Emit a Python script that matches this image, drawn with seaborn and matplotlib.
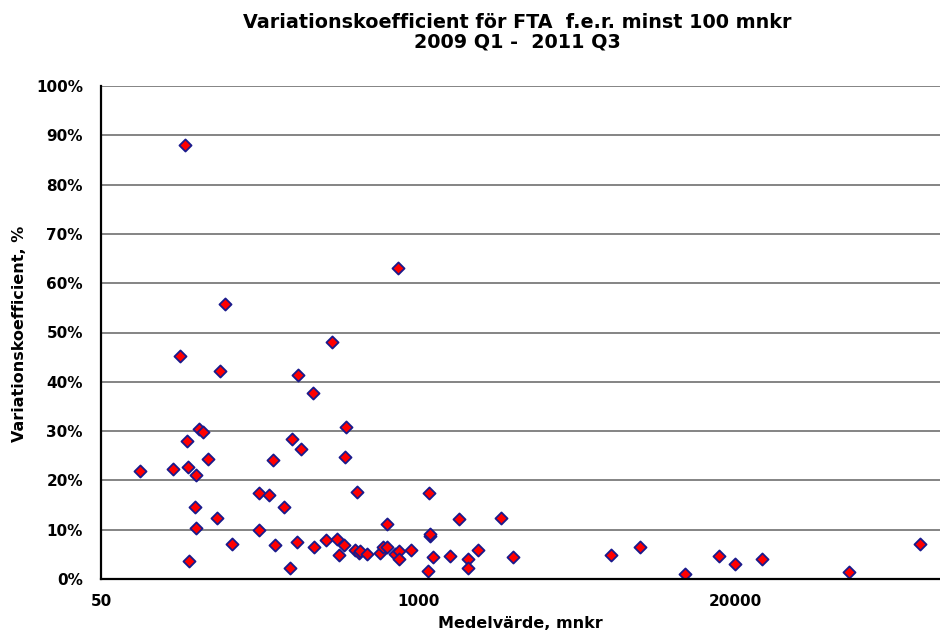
import matplotlib
matplotlib.use("Agg")
from matplotlib import pyplot as plt
from matplotlib.ticker import FixedLocator, NullLocator, FuncFormatter
import pandas as pd
import seaborn as sns

# medelvärde (mnkr) och variationskoefficient (%) per FTA
medelvarde = [72, 99, 105.5, 110.6, 113, 113.8, 114.5, 121, 122.7, 123,
              126, 131.5, 137.5, 150, 154, 162, 172, 222, 223, 244,
              253, 259, 282, 298, 303, 319, 323, 330, 372, 374,
              418, 445, 464, 474, 497, 502, 507, 553, 560, 574,
              578, 619, 698, 716, 744, 744, 807, 826, 836, 836,
              934, 1102, 1106, 1123, 1123, 1156, 1353, 1469, 1600, 1600,
              1758, 2198, 2462, 6180, 8115, 12470, 17245, 20060, 25820, 58750,
              114600]
variationskoeff = [21.9, 22.4, 45.3, 88.1, 27.9, 22.7, 3.7, 14.7, 21.0, 10.4,
                   30.4, 29.9, 24.3, 12.3, 42.1, 55.8, 7.1, 10.0, 17.5, 17.1,
                   24.2, 6.9, 14.7, 2.2, 28.3, 7.6, 41.4, 26.4, 37.8, 6.5,
                   8.0, 48.0, 8.2, 4.8, 6.9, 24.7, 30.8, 5.9, 17.6, 5.2,
                   5.6, 5.1, 5.3, 6.5, 6.4, 11.1, 5.1, 63.0, 5.7, 4.0,
                   5.8, 1.6, 17.5, 8.7, 9.1, 4.5, 4.7, 12.2, 4.1, 2.2,
                   5.8, 12.4, 4.4, 4.8, 6.45, 1.0, 4.6, 3.1, 4.0, 1.4,
                   7.1]

x_ticks = [50, 1000, 20000]
y_ticks = [0, 10, 20, 30, 40, 50, 60, 70, 80, 90, 100]

df = pd.DataFrame({"medel": medelvarde, "cv": variationskoeff})

sns.set_style("white")
plt.rcParams["font.family"] = ["DejaVu Sans"]
plt.rcParams["font.weight"] = "bold"
plt.rcParams["text.color"] = "black"
plt.rcParams["xtick.color"] = "black"
plt.rcParams["ytick.color"] = "black"

fig = plt.figure(figsize=(9.4, 6.41), dpi=100)
# axeln fortsätter förbi bildens högerkant, som i originalet (max 400000)
ax = fig.add_axes([101 / 940, 62 / 641, 951 / 940, 493 / 641])

for y in y_ticks[1:]:
    ax.axhline(y, color="#707070", lw=1.2, zorder=1)

sns.scatterplot(data=df, x="medel", y="cv", marker="D", s=38,
                color="red", edgecolor="#1a1a8c", linewidth=1.3,
                ax=ax, zorder=3, legend=False)

ax.set_xscale("log")
ax.set_xlim(50, 400000)
ax.set_ylim(0, 100)
ax.xaxis.set_major_locator(FixedLocator(x_ticks))
ax.xaxis.set_minor_locator(NullLocator())
ax.xaxis.set_major_formatter(FuncFormatter(lambda v, p: f"{v:.0f}"))
ax.set_yticks(y_ticks)
ax.set_yticklabels([f"{v}%" for v in y_ticks])
ax.tick_params(axis="x", length=0, pad=11, labelsize=11)
ax.tick_params(axis="y", length=4, width=1, direction="out", pad=9, labelsize=11)
ax.set_xlabel("")
ax.set_ylabel("")

for side in ["top", "right"]:
    ax.spines[side].set_visible(False)
for side in ["left", "bottom"]:
    ax.spines[side].set_color("black")
    ax.spines[side].set_linewidth(1.6)
    ax.spines[side].set_zorder(4)

fig.text(517 / 940, 1 - 32 / 641, "Variationskoefficient för FTA  f.e.r. minst 100 mnkr\n2009 Q1 -  2011 Q3",
         ha="center", va="center", fontsize=13.8, fontweight="bold", linespacing=1.0)
fig.text(520 / 940, 1 - 624 / 641, "Medelvärde, mnkr", ha="center", va="center",
         fontsize=11.5, fontweight="bold")
fig.text(20 / 940, 1 - 334 / 641, "Variationskoefficient, %", ha="center", va="center",
         rotation=90, fontsize=11.5, fontweight="bold")

fig.savefig("out.png", dpi=100)
